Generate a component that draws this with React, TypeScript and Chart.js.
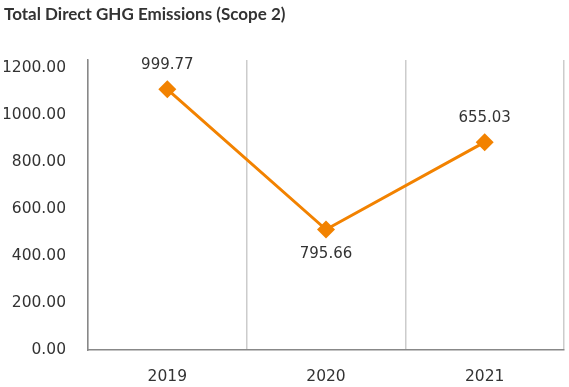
import React, { useEffect, useRef } from "react";
import { Chart, registerables } from "chart.js";

Chart.register(...registerables);

const TITLE = "Total Direct GHG Emissions (Scope 2)";
const categories = ["2019", "2020", "2021"];
const seriesValues = [1110, 513, 885];
const pointLabels = ["999.77", "795.66", "655.03"];
const labelAbove = [true, false, true];
const yTickValues = [0, 200, 400, 600, 800, 1000, 1200];

const TICK_FONT = "'DejaVu Sans', sans-serif";
const TITLE_FONT = "Lato, 'Open Sans', sans-serif";

const pointLabelPlugin = {
  id: "pointLabels",
  afterDatasetsDraw(chart: any) {
    const ctx = chart.ctx;
    const meta = chart.getDatasetMeta(0);
    ctx.save();
    ctx.font = `15px ${TICK_FONT}`;
    ctx.fillStyle = "#333333";
    ctx.textAlign = "center";
    ctx.textBaseline = "middle";
    meta.data.forEach((el: any, i: number) => {
      const dy = labelAbove[i] ? -24 : 25;
      ctx.fillText(pointLabels[i], el.x, el.y + dy);
    });
    ctx.restore();
  },
};

export default function App() {
  const ref = useRef<HTMLCanvasElement>(null);
  useEffect(() => {
    document.body.style.margin = "0";
    const chart = new Chart(ref.current!, {
      type: "line",
      data: {
        labels: categories,
        datasets: [
          {
            data: seriesValues,
            borderColor: "#F28200",
            backgroundColor: "#F28200",
            borderWidth: 3,
            pointStyle: "rectRot",
            pointRadius: 9,
            pointHoverRadius: 9,
            pointBorderWidth: 0,
            tension: 0,
          },
        ],
      },
      options: {
        animation: false,
        responsive: false,
        layout: { autoPadding: false, padding: { left: 4, right: 5, top: 4, bottom: 0 } },
        plugins: {
          legend: { display: false },
          tooltip: { enabled: false },
          title: {
            display: true,
            text: TITLE,
            align: "start",
            color: "#333333",
            font: { family: TITLE_FONT, size: 17, weight: "bold" },
            padding: { top: 0, bottom: 35.6 },
          },
        },
        scales: {
          x: {
            offset: true,
            grid: { display: true, offset: true, color: "#cccccc", lineWidth: 1.5, drawTicks: false },
            border: { display: true, color: "#888888", width: 1.5 },
            ticks: { color: "#333333", font: { family: TICK_FONT, size: 15.5 }, padding: 18 },
            afterFit(scale: any) {
              scale.height = 37;
              scale.paddingLeft = 0;
              scale.paddingRight = 0;
            },
          },
          y: {
            min: 0,
            max: 1235,
            afterBuildTicks(axis: any) {
              axis.ticks = yTickValues.map((v) => ({ value: v }));
            },
            grid: { display: false, drawTicks: false },
            border: { display: true, color: "#888888", width: 1.5 },
            ticks: {
              color: "#333333",
              font: { family: TICK_FONT, size: 15.5 },
              padding: 22,
              callback: (v: any) => Number(v).toFixed(2),
            },
            afterFit(scale: any) {
              scale.width = 84;
              scale.paddingTop = 0;
              scale.paddingBottom = 0;
            },
          },
        },
      },
      plugins: [pointLabelPlugin],
    });
    return () => chart.destroy();
  }, []);
  return (
    <div style={{ width: 569, height: 387 }}>
      <canvas ref={ref} width={569} height={387} />
    </div>
  );
}
